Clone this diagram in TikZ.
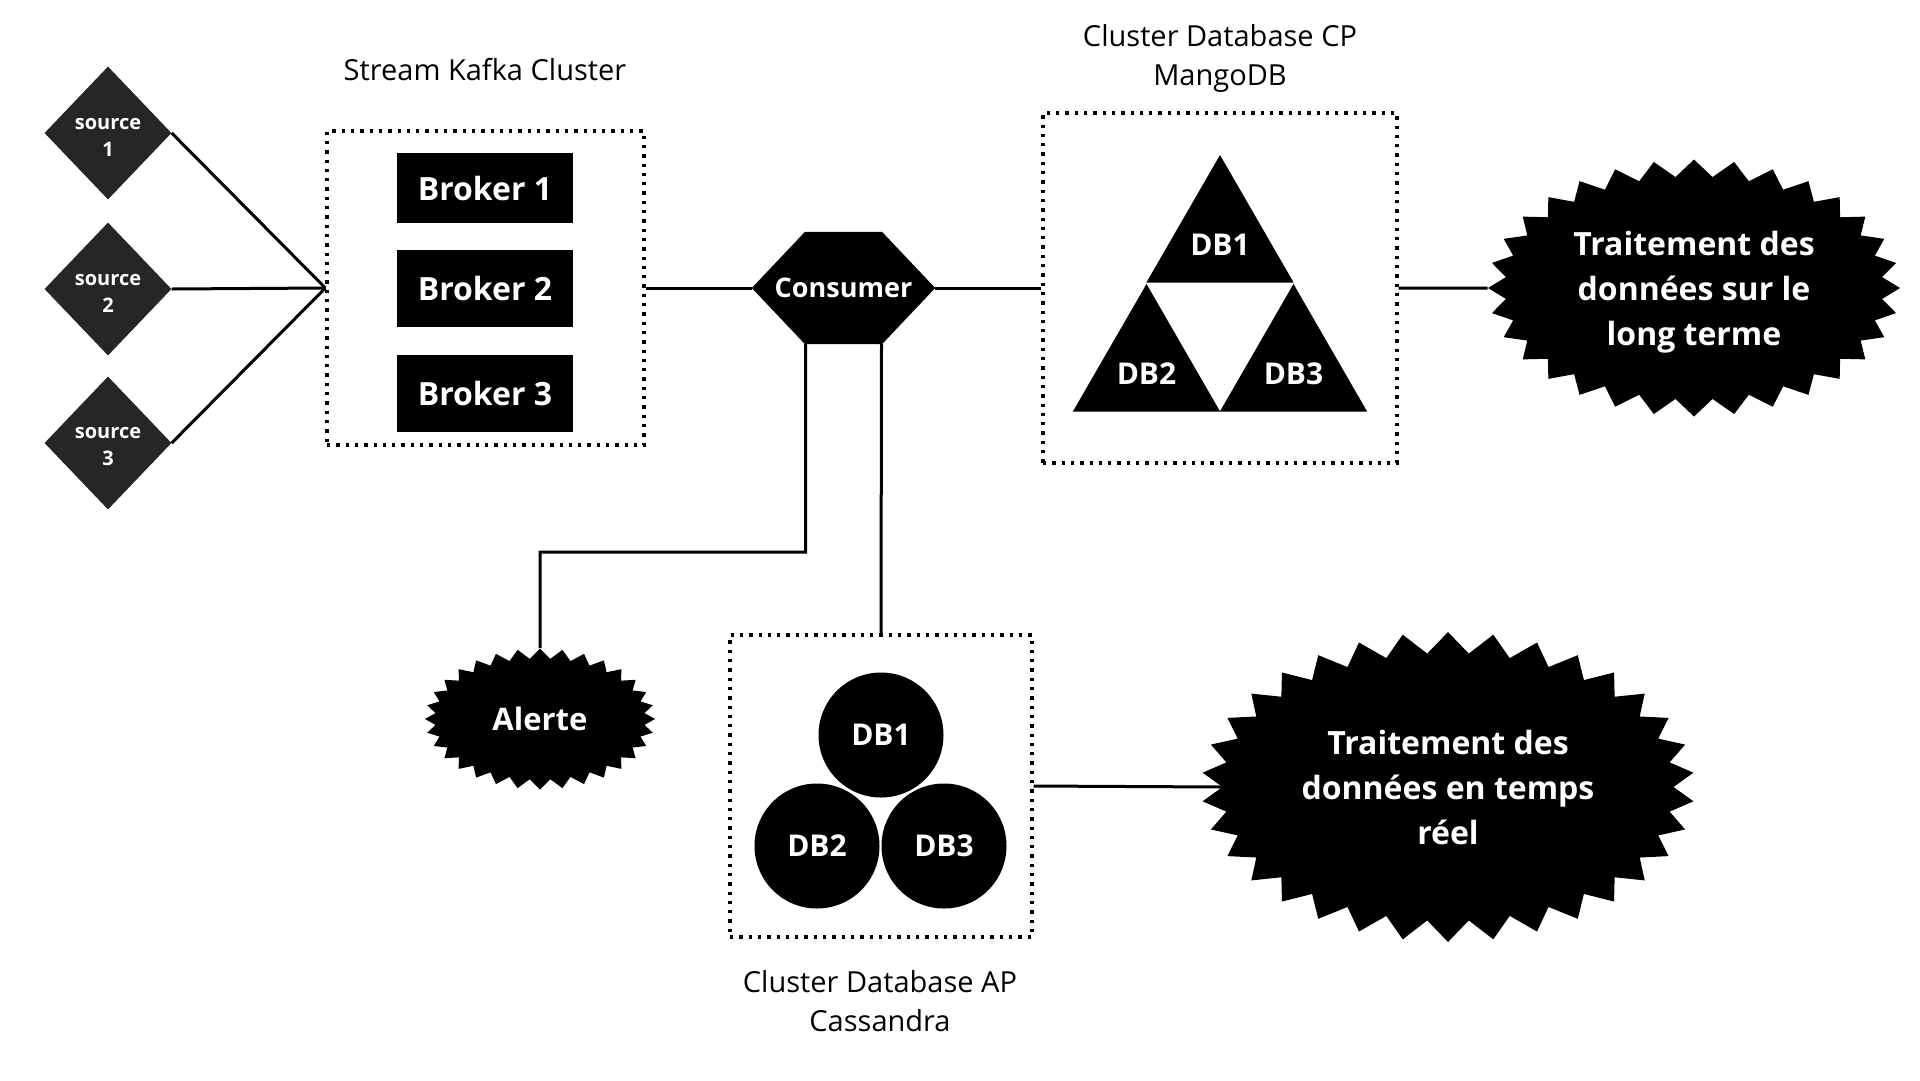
\documentclass[tikz,border=0pt]{standalone}
\usepackage{fontspec}
\setmainfont{Open Sans}
\usetikzlibrary{shapes.geometric,shapes.symbols,backgrounds}

\begin{document}
\begin{tikzpicture}[x=1pt,y=-1pt,
	cnx/.style={line width=3pt},
	dotbox/.style={draw,line width=3.3pt,dash pattern=on 3.3pt off 6pt,inner sep=0pt},
	srcnode/.style={diamond,fill=black!85,text=white,inner sep=0pt,align=center,
		minimum width=127pt,minimum height=133pt,font=\bfseries\fontsize{20}{27}\selectfont},
	brokernode/.style={fill=black,text=white,minimum width=176pt,minimum height=74pt,
		font=\bfseries\fontsize{32}{38}\selectfont},
	burst/.style={starburst,random starburst=0,starburst points=32,fill=black,text=white,
		inner sep=0pt,align=center,text depth=0pt,font=\bfseries\fontsize{32}{45}\selectfont},
	dbtri/.style={regular polygon,regular polygon sides=3,fill=black,text=white,inner sep=0pt,
		minimum size=170pt,text height=31pt,font=\bfseries\fontsize{30}{36}\selectfont},
	dbcirc/.style={circle,fill=black,text=white,inner sep=0pt,minimum size=125pt,
		font=\bfseries\fontsize{30}{36}\selectfont},
	caption/.style={align=center,font=\fontsize{29}{39}\selectfont}
	]
	\useasboundingbox (0,0) rectangle (1920,1080);

	% sources
	\node[srcnode] (src1) at (108,133) {\rule{0pt}{19pt}source\\1};
	\node[srcnode] (src2) at (108,289) {\rule{0pt}{19pt}source\\2};
	\node[srcnode] (src3) at (108,443) {\rule{0pt}{19pt}source\\3};

	% kafka cluster
	\node[caption] (kafkalbl) at (485,70) {Stream Kafka Cluster};
	\node[dotbox,minimum width=317pt,minimum height=314pt] (kafka) at (485.5,288) {};
	\node[brokernode,minimum height=70pt] (brk1) at (485,188) {Broker 1};
	\node[brokernode,minimum height=77pt] (brk2) at (485,288.5) {Broker 2};
	\node[brokernode,minimum height=77pt] (brk3) at (485,393.5) {Broker 3};

	% consumer
	\node[text=white,inner sep=0pt,minimum width=183pt,minimum height=112pt,
		font=\bfseries\fontsize{27}{32}\selectfont] (cons) at (843.5,288) {Consumer};
	\begin{scope}[on background layer]
		\fill (cons.west) -- ([xshift=-38.5pt]cons.north) -- ([xshift=38.5pt]cons.north)
			-- (cons.east) -- ([xshift=38.5pt]cons.south) -- ([xshift=-38.5pt]cons.south) -- cycle;
	\end{scope}

	% cluster CP
	\node[caption] (cplbl) at (1220,58) {Cluster Database CP\\MangoDB};
	\node[dotbox,minimum width=354pt,minimum height=350pt] (cp) at (1220,288) {};
	\node[dbtri] (cpdb1) at (1220,240) {DB1};
	\node[dbtri] (cpdb2) at (1146.5,369) {DB2};
	\node[dbtri] (cpdb3) at (1293.5,369) {DB3};

	% cluster AP
	\node[dotbox,minimum width=302pt,minimum height=302pt] (ap) at (881,786) {};
	\node[dbcirc] (apdb1) at (881,735) {DB1};
	\node[dbcirc] (apdb2) at (817,846) {DB2};
	\node[dbcirc] (apdb3) at (944,846) {DB3};
	\node[caption] (aplbl) at (880,1001) {Cluster Database AP\\Cassandra};

	% traitements
	\node[burst,minimum width=412pt,minimum height=257pt,starburst point height=17pt]
		(longterm) at (1694,288) {Traitement des\\donn\'ees sur le\\long terme};
	\node[burst,minimum width=493pt,minimum height=310pt,starburst point height=21pt,starburst points=34]
		(realtime) at (1448,787) {Traitement des\\donn\'ees en temps\\r\'eel};
	\node[burst,minimum width=230pt,minimum height=141pt,starburst point height=10pt,
		font=\bfseries\fontsize{31}{36}\selectfont] (alert) at (540,719) {Alerte};

	% connexions
	\draw[cnx] (src1.east) -- (kafka.west);
	\draw[cnx] (src2.east) -- (kafka.west);
	\draw[cnx] (src3.east) -- (kafka.west);
	\draw[cnx] (kafka.east) -- (cons.west);
	\draw[cnx] (cons.east) -- (cp.west);
	\draw[cnx] (cp.east) -- (longterm.west);
	\coordinate (elbow) at (540,552);
	\draw[cnx] ([xshift=-38pt]cons.south) |- (elbow) -- (alert.north);
	\draw[cnx] ([xshift=38pt]cons.south) -- (ap.north);
	\draw[cnx] (ap.east) -- (realtime.west);
\end{tikzpicture}
\end{document}
